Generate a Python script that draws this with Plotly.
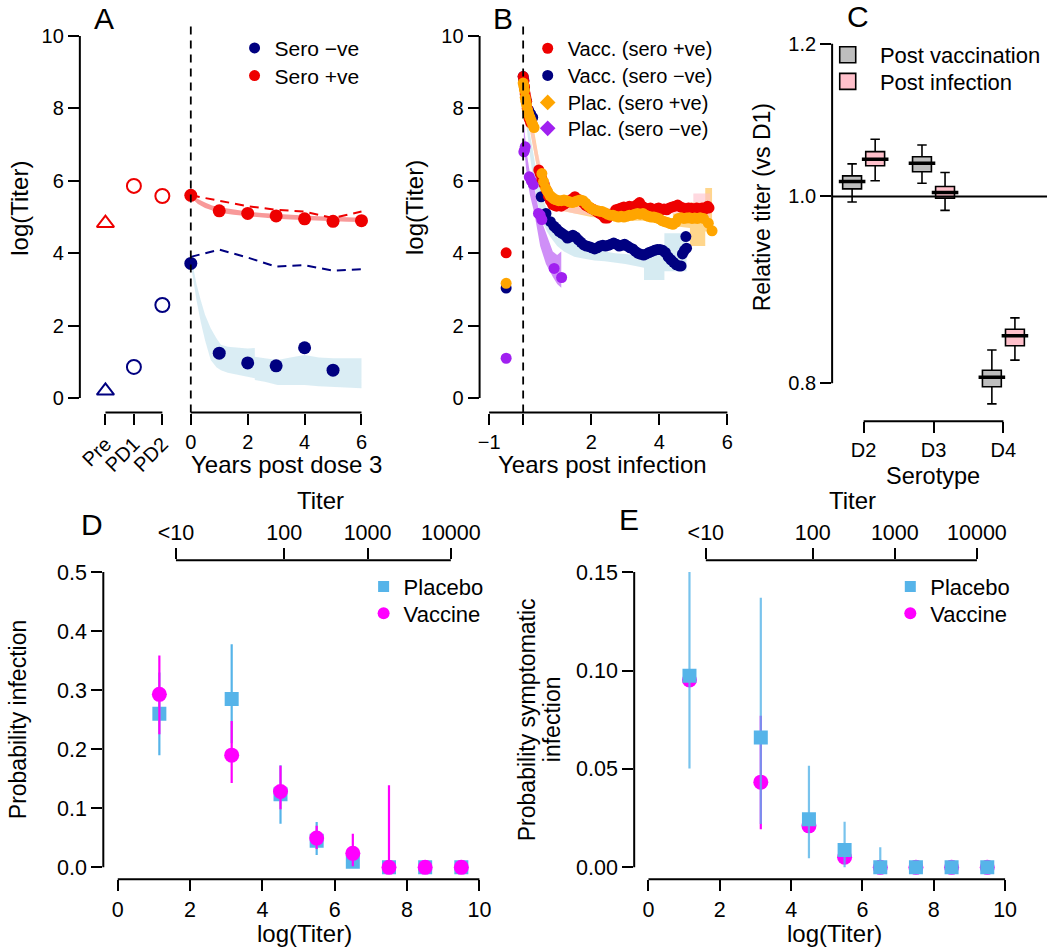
import plotly.graph_objects as go

W, H = 1050, 952
FONT = "Liberation Sans, Arial, Helvetica, sans-serif"


def X(p):
    return p / W


def Y(p):
    return 1 - p / H


# ---------------- Panel A data ----------------
A_pre_x = [-3, -2, -1]
A_pre_labels = ["Pre", "PD1", "PD2"]
A_neg_pre = [0.20, 0.86, 2.57]
A_pos_pre = [4.83, 5.86, 5.58]
A_years_pos = [0, 1, 2, 3, 4, 5, 6]
A_pos_obs = [5.60, 5.17, 5.10, 5.03, 4.95, 4.88, 4.90]
A_years_neg = [0, 1, 2, 3, 4, 5]
A_neg_obs = [3.72, 1.24, 0.97, 0.89, 1.39, 0.77]
A_dash_x = [0, 1, 2, 3, 4, 5, 6]
A_pos_dash = [5.60, 5.45, 5.30, 5.20, 5.15, 4.97, 5.15]
A_neg_dash = [3.90, 4.10, 3.88, 3.63, 3.67, 3.52, 3.56]
A_posband_x = [0, 0.25, 0.5, 0.75, 1, 1.5, 2, 2.5, 3, 3.5, 4, 4.5, 5, 5.5, 6]
A_posband_hi = [5.66, 5.50, 5.40, 5.32, 5.27, 5.20, 5.15, 5.11, 5.08, 5.06, 5.04, 5.02, 5.00, 4.99, 4.98]
A_posband_lo = [5.54, 5.36, 5.25, 5.18, 5.12, 5.06, 5.02, 4.98, 4.95, 4.93, 4.91, 4.89, 4.88, 4.87, 4.86]
A_negband_x = [0, 0.1, 0.2, 0.35, 0.5, 0.7, 0.9, 1.06, 1.3, 1.6, 2.0, 2.25, 2.25, 2.6, 3.05, 3.5, 4.0, 4.5, 5.0, 6.0]
A_negband_hi = [3.95, 3.50, 3.15, 2.70, 2.30, 1.93, 1.65, 1.47, 1.42, 1.40, 1.37, 1.38, 1.14, 1.10, 1.05, 1.12, 1.19, 1.12, 1.10, 1.10]
A_negband_lo = [3.70, 3.20, 2.70, 2.10, 1.60, 1.05, 0.85, 0.77, 0.70, 0.65, 0.59, 0.55, 0.50, 0.45, 0.36, 0.36, 0.36, 0.33, 0.31, 0.27]

# ---------------- Panel B data ----------------
B_pre_x = [-0.5]
B_pre_vpos = [4.01]
B_pre_vneg = [3.04]
B_pre_ppos = [3.17]
B_pre_pneg = [1.10]

B_vpos_x = [0.0, 0.02, 0.04, 0.06, 0.08, 0.1, 0.12, 0.15, 0.18, 0.22, 0.46, 0.5, 0.55, 0.62, 0.68, 0.74, 0.8,
            0.86, 0.92, 0.98, 1.05, 1.12, 1.2, 1.28, 1.36, 1.44, 1.52, 1.6, 1.68, 1.76, 1.84, 1.92, 2.0, 2.08,
            2.16, 2.24, 2.32, 2.4, 2.48, 2.56, 2.64, 2.72, 2.8, 2.88, 2.96, 3.04, 3.12, 3.2, 3.28, 3.36, 3.42,
            3.5, 3.58, 3.66, 3.74, 3.82, 3.9, 3.98, 4.06, 4.14, 4.22, 4.3, 4.38, 4.46, 4.54, 4.62, 4.7, 4.78,
            4.86, 4.94, 5.02, 5.1, 5.18, 5.26, 5.34, 5.42, 5.46]
B_vpos_y = [8.88, 8.75, 8.60, 8.40, 8.30, 8.20, 8.00, 7.85, 7.70, 7.60, 6.30, 6.20, 6.05, 5.90, 5.75, 5.58, 5.45,
            5.35, 5.32, 5.30, 5.35, 5.30, 5.35, 5.40, 5.45, 5.50, 5.56, 5.50, 5.45, 5.40, 5.32, 5.28, 5.24, 5.20,
            5.15, 5.10, 5.05, 4.97, 4.97, 5.05, 5.10, 5.20, 5.22, 5.25, 5.28, 5.25, 5.30, 5.28, 5.30, 5.35, 5.40,
            5.30, 5.25, 5.22, 5.25, 5.20, 5.22, 5.25, 5.20, 5.22, 5.20, 5.25, 5.28, 5.30, 5.33, 5.28, 5.25, 5.22,
            5.25, 5.24, 5.22, 5.25, 5.22, 5.25, 5.22, 5.30, 5.25]

B_ppos_x = [0.0, 0.02, 0.04, 0.06, 0.08, 0.1, 0.13, 0.16, 0.2, 0.24, 0.28, 0.32, 0.55, 0.6, 0.66, 0.72, 0.78,
            0.84, 0.9, 0.96, 1.04, 1.12, 1.2, 1.28, 1.36, 1.44, 1.52, 1.6, 1.68, 1.76, 1.84, 1.92, 2.0, 2.08,
            2.16, 2.24, 2.32, 2.4, 2.48, 2.56, 2.64, 2.72, 2.8, 2.88, 2.96, 3.04, 3.12, 3.2, 3.28, 3.36, 3.44,
            3.52, 3.6, 3.68, 3.76, 3.84, 3.92, 4.0, 4.08, 4.16, 4.24, 4.32, 4.4, 4.48, 4.56, 4.64, 4.72, 4.8,
            4.88, 4.96, 5.04, 5.12, 5.2, 5.3, 5.44, 5.55]
B_ppos_y = [8.70, 8.62, 8.50, 8.30, 8.20, 8.10, 7.95, 7.85, 7.75, 7.65, 7.55, 7.47, 6.20, 5.98, 5.80, 5.70, 5.60,
            5.55, 5.50, 5.48, 5.45, 5.45, 5.47, 5.45, 5.42, 5.40, 5.42, 5.45, 5.47, 5.45, 5.38, 5.30, 5.24, 5.20,
            5.18, 5.16, 5.15, 5.12, 5.08, 5.05, 5.05, 5.02, 5.00, 5.02, 5.00, 5.02, 5.05, 5.05, 5.08, 5.10, 5.08,
            5.10, 5.05, 5.02, 5.00, 5.00, 4.98, 4.95, 4.90, 4.87, 4.85, 4.82, 4.80, 4.85, 4.96, 4.98, 4.96, 4.97,
            4.98, 4.96, 4.97, 4.96, 4.98, 4.96, 4.83, 4.62]

B_vneg_x = [0.0, 0.02, 0.04, 0.1, 0.16, 0.22, 0.28, 0.53, 0.67, 0.8, 0.9, 0.98, 1.06, 1.14, 1.22, 1.3, 1.38,
            1.46, 1.54, 1.62, 1.7, 1.78, 1.86, 1.94, 2.02, 2.1, 2.18, 2.26, 2.34, 2.42, 2.5, 2.58, 2.66, 2.74,
            2.82, 2.9, 2.98, 3.06, 3.14, 3.22, 3.3, 3.38, 3.46, 3.54, 3.62, 3.7, 3.78, 3.86, 3.94, 4.02, 4.1,
            4.18, 4.26, 4.34, 4.42, 4.5, 4.58, 4.64, 4.68, 4.74, 4.8, 4.78]
B_vneg_y = [8.88, 8.78, 8.56, 8.20, 7.95, 7.85, 7.75, 5.56, 5.10, 4.87, 4.75, 4.68, 4.60, 4.55, 4.50, 4.42, 4.45,
            4.50, 4.45, 4.37, 4.30, 4.23, 4.20, 4.18, 4.15, 4.12, 4.15, 4.20, 4.22, 4.20, 4.22, 4.25, 4.28, 4.25,
            4.20, 4.22, 4.25, 4.20, 4.15, 4.12, 4.05, 4.00, 3.97, 3.95, 3.98, 4.02, 4.05, 4.08, 4.10, 4.10, 4.08,
            4.02, 3.90, 3.82, 3.75, 3.68, 3.65, 3.65, 3.98, 4.08, 4.14, 4.46]

B_pneg_x = [0.02, 0.04, 0.06, 0.18, 0.24, 0.3, 0.45, 0.5, 0.55, 0.91, 1.13]
B_pneg_y = [6.80, 6.85, 6.94, 6.11, 6.00, 5.90, 5.10, 5.05, 4.93, 3.58, 3.33]

B_vnegband_x = [0.02, 0.1, 0.2, 0.3, 0.4, 0.5, 0.6, 0.7, 0.8, 1.0, 1.2, 1.5, 1.8, 2.1, 2.4, 2.7, 3.0, 3.3, 3.55,
                3.55, 4.15, 4.15, 4.8]
B_vnegband_hi = [8.90, 8.00, 7.30, 6.70, 6.20, 5.80, 5.45, 5.20, 5.00, 4.70, 4.50, 4.30, 4.20, 4.10, 4.05, 4.00,
                 3.98, 3.95, 3.95, 4.00, 4.00, 4.55, 4.55]
B_vnegband_lo = [8.50, 7.50, 6.70, 6.00, 5.50, 5.10, 4.80, 4.60, 4.45, 4.20, 4.05, 3.90, 3.85, 3.80, 3.78, 3.75,
                 3.70, 3.65, 3.60, 3.26, 3.26, 3.50, 3.50]
B_pposband_x = [0.0, 0.1, 0.2, 0.3, 0.4, 0.5, 0.6, 0.8, 1.0, 1.5, 2.0, 2.5, 3.0, 3.5, 4.0, 4.4, 4.4, 4.9, 4.9,
                5.35, 5.35, 5.55]
B_pposband_hi = [8.80, 8.40, 8.00, 7.50, 6.90, 6.40, 6.00, 5.60, 5.45, 5.40, 5.25, 5.15, 5.10, 5.10, 5.00, 4.95,
                 5.10, 5.10, 5.40, 5.40, 5.80, 5.80]
B_pposband_lo = [8.40, 7.90, 7.40, 6.80, 6.30, 5.90, 5.60, 5.30, 5.20, 5.10, 5.00, 4.95, 4.90, 4.90, 4.85, 4.75,
                 4.75, 4.70, 4.20, 4.20, 4.60, 4.60]
B_vposband_x = [0.0, 0.2, 0.4, 0.6, 0.8, 1.0, 1.5, 2.0, 2.5, 3.0, 3.5, 4.0, 4.5, 5.0, 5.0, 5.5]
B_vposband_hi = [8.90, 7.90, 6.90, 6.10, 5.60, 5.45, 5.40, 5.30, 5.25, 5.30, 5.35, 5.35, 5.40, 5.40, 5.65, 5.65]
B_vposband_lo = [8.60, 7.40, 6.40, 5.70, 5.35, 5.20, 5.10, 5.05, 5.00, 5.05, 5.10, 5.10, 5.10, 5.05, 5.00, 5.00]
B_pnegband_x = [0.02, 0.1, 0.2, 0.33, 0.5, 0.67, 0.87, 1.0, 1.12]
B_pnegband_hi = [7.60, 6.80, 6.20, 5.80, 5.00, 4.55, 4.05, 3.95, 4.05]
B_pnegband_lo = [7.00, 6.20, 5.60, 5.10, 4.20, 3.70, 3.35, 3.15, 3.05]

# ---------------- Panel C data ----------------
C_serotypes = ["D2", "D3", "D4"]
C_pos = [1, 2, 3]
C_vac_q1 = [1.0092, 1.0300, 0.7967]
C_vac_med = [1.0180, 1.0405, 0.8058]
C_vac_q3 = [1.0249, 1.0487, 0.8126]
C_vac_lo = [0.9934, 1.0160, 0.7806]
C_vac_hi = [1.0397, 1.0634, 0.8324]
C_inf_q1 = [1.0375, 0.9980, 0.8367]
C_inf_med = [1.0455, 1.0048, 0.8467]
C_inf_q3 = [1.0550, 1.0120, 0.8534]
C_inf_lo = [1.0190, 0.9835, 0.8225]
C_inf_hi = [1.0707, 1.0290, 0.8650]

# ---------------- Panel D / E data ----------------
DE_x = [1.15, 3.15, 4.5, 5.5, 6.5, 7.5, 8.5, 9.5]
D_plac = [0.260, 0.285, 0.124, 0.045, 0.0095, 0.0, 0.0, 0.0]
D_plac_lo = [0.190, 0.210, 0.074, 0.021, 0.0, 0.0, 0.0, 0.0]
D_plac_hi = [0.330, 0.378, 0.173, 0.077, 0.035, 0.0, 0.0, 0.0]
D_vacc = [0.293, 0.190, 0.1286, 0.0496, 0.0237, 0.0, 0.0, 0.0]
D_vacc_lo = [0.2255, 0.1427, 0.0986, 0.031, 0.002, 0.0, 0.0, 0.0]
D_vacc_hi = [0.359, 0.248, 0.172, 0.0705, 0.0569, 0.139, 0.0, 0.0]
E_plac = [0.0973, 0.066, 0.0245, 0.0088, 0.0, 0.0, 0.0, 0.0]
E_plac_lo = [0.0502, 0.022, 0.0046, 0.0, 0.0, 0.0, 0.0, 0.0]
E_plac_hi = [0.150, 0.137, 0.0516, 0.0232, 0.0102, 0.0, 0.0, 0.0]
E_vacc = [0.0952, 0.0433, 0.0211, 0.0052, 0.0, 0.0, 0.0, 0.0]
E_vacc_lo = [0.0952, 0.0194, 0.0211, 0.0052, 0.0, 0.0, 0.0, 0.0]
E_vacc_hi = [0.0952, 0.077, 0.0211, 0.0052, 0.0, 0.0, 0.0, 0.0]
titer_labels = ["<10", "100", "1000", "10000"]
titer_pos = [1.609, 4.605, 6.908, 9.210]

# ---------------- colours ----------------
RED = "#EE0000"
NAVY = "#000080"
ORANGE = "#FFA500"
PURPLE = "#A020F0"
SKY = "#56B4E9"
MAGENTA = "#FF00FF"

fig = go.Figure()


def band(x, lo, hi, color, xa, ya):
    fig.add_trace(go.Scatter(x=x, y=lo, mode="lines", line=dict(width=0, color=color),
                             xaxis=xa, yaxis=ya, showlegend=False, hoverinfo="skip"))
    fig.add_trace(go.Scatter(x=x, y=hi, mode="lines", line=dict(width=0, color=color), fill="tonexty",
                             fillcolor=color, xaxis=xa, yaxis=ya, showlegend=False, hoverinfo="skip"))


def pts(x, y, color, xa, ya, size=11, symbol="circle"):
    fig.add_trace(go.Scatter(x=x, y=y, mode="markers",
                             marker=dict(color=color, size=size, symbol=symbol, line=dict(width=0)),
                             xaxis=xa, yaxis=ya, showlegend=False, hoverinfo="skip"))


legends = {}
_leg_count = [0]


def legend_item(name, color, symbol, size, sx, sy, fsize, line=None):
    """One legend entry, its symbol centred at pixel (sx, sy)."""
    _leg_count[0] += 1
    key = "legend" if _leg_count[0] == 1 else "legend%d" % _leg_count[0]
    legends[key] = dict(x=X(sx - 20), y=Y(sy), xanchor="left", yanchor="middle",
                        font=dict(family=FONT, size=fsize, color="black"), bgcolor="rgba(0,0,0,0)",
                        borderwidth=0, itemclick=False, itemdoubleclick=False, traceorder="normal")
    fig.add_trace(go.Scatter(x=[None], y=[None], mode="markers", name=name,
                             marker=dict(color=color, size=size, symbol=symbol,
                                         line=line or dict(width=0)),
                             legend=key, showlegend=True, xaxis="x", yaxis="y"))


# ---- Panel A ----
band(A_negband_x, A_negband_lo, A_negband_hi, "rgba(173,216,230,0.45)", "x", "y")
band(A_posband_x, A_posband_lo, A_posband_hi, "rgba(238,0,0,0.4)", "x", "y")
fig.add_trace(go.Scatter(x=A_dash_x, y=A_pos_dash, mode="lines", line=dict(color=RED, width=2, dash="9px,6px"),
                         xaxis="x", yaxis="y", showlegend=False))
fig.add_trace(go.Scatter(x=A_dash_x, y=A_neg_dash, mode="lines", line=dict(color=NAVY, width=2, dash="9px,6px"),
                         xaxis="x", yaxis="y", showlegend=False))
fig.add_trace(go.Scatter(x=A_pre_x[1:], y=A_pos_pre[1:], mode="markers",
                         marker=dict(symbol="circle-open", size=14, color=RED, line=dict(width=2)),
                         xaxis="x2", yaxis="y", showlegend=False))
fig.add_trace(go.Scatter(x=A_pre_x[1:], y=A_neg_pre[1:], mode="markers",
                         marker=dict(symbol="circle-open", size=14, color=NAVY, line=dict(width=2)),
                         xaxis="x2", yaxis="y", showlegend=False))
fig.add_trace(go.Scatter(x=A_pre_x[:1], y=A_pos_pre[:1], mode="markers",
                         marker=dict(symbol="triangle-up-open", size=15, color=RED, line=dict(width=2)),
                         xaxis="x2", yaxis="y", showlegend=False))
fig.add_trace(go.Scatter(x=A_pre_x[:1], y=A_neg_pre[:1], mode="markers",
                         marker=dict(symbol="triangle-up-open", size=15, color=NAVY, line=dict(width=2)),
                         xaxis="x2", yaxis="y", showlegend=False))
pts(A_years_pos, A_pos_obs, RED, "x", "y", size=13)
pts(A_years_neg, A_neg_obs, NAVY, "x", "y", size=13)
legend_item("Sero \u2212ve", NAVY, "circle", 11, 253, 48.3, 21)
legend_item("Sero +ve", RED, "circle", 11, 253, 76, 21)

# ---- Panel B ----
band(B_vnegband_x, B_vnegband_lo, B_vnegband_hi, "rgba(173,216,230,0.5)", "x3", "y2")
band(B_pnegband_x, B_pnegband_lo, B_pnegband_hi, "rgba(160,32,240,0.5)", "x3", "y2")
band(B_pposband_x, B_pposband_lo, B_pposband_hi, "rgba(255,165,0,0.45)", "x3", "y2")
band(B_vposband_x, B_vposband_lo, B_vposband_hi, "rgba(255,192,203,0.6)", "x3", "y2")
pts(B_vneg_x, B_vneg_y, NAVY, "x3", "y2")
pts(B_pneg_x, B_pneg_y, PURPLE, "x3", "y2")
pts(B_vpos_x, B_vpos_y, RED, "x3", "y2")
pts(B_ppos_x, B_ppos_y, ORANGE, "x3", "y2")
pts(B_pre_x, B_pre_vpos, RED, "x3", "y2")
pts(B_pre_x, B_pre_vneg, NAVY, "x3", "y2")
pts(B_pre_x, B_pre_ppos, ORANGE, "x3", "y2")
pts(B_pre_x, B_pre_pneg, PURPLE, "x3", "y2")
legend_item("Vacc. (sero +ve)", RED, "circle", 11, 546.7, 48.3, 20)
legend_item("Vacc. (sero \u2212ve)", NAVY, "circle", 11, 546.7, 75.5, 20)
legend_item("Plac. (sero +ve)", ORANGE, "diamond", 12, 546.7, 102.5, 20)
legend_item("Plac. (sero \u2212ve)", PURPLE, "diamond", 12, 546.7, 128.5, 20)

# ---- Panel C ----
off = 0.165
fig.add_trace(go.Box(x=[p - off for p in C_pos], q1=C_vac_q1, median=C_vac_med, q3=C_vac_q3,
                     lowerfence=C_vac_lo, upperfence=C_vac_hi, width=0.27, whiskerwidth=0.5,
                     fillcolor="#BEBEBE", line=dict(color="black", width=1.6), boxpoints=False,
                     xaxis="x4", yaxis="y3", showlegend=False, hoverinfo="skip"))
fig.add_trace(go.Box(x=[p + off for p in C_pos], q1=C_inf_q1, median=C_inf_med, q3=C_inf_q3,
                     lowerfence=C_inf_lo, upperfence=C_inf_hi, width=0.27, whiskerwidth=0.5,
                     fillcolor="#FFC0CB", line=dict(color="black", width=1.6), boxpoints=False,
                     xaxis="x4", yaxis="y3", showlegend=False, hoverinfo="skip"))
fig.add_trace(go.Scatter(x=[p - off for p in C_pos] + [p + off for p in C_pos], y=C_vac_med + C_inf_med,
                         mode="markers", marker=dict(symbol="line-ew-open", size=19, color="black",
                                                     line=dict(color="black", width=3.5)),
                         xaxis="x4", yaxis="y3", showlegend=False, hoverinfo="skip"))
legend_item("\u00a0\u00a0Post vaccination", "#BEBEBE", "square", 16, 847.3, 55, 22,
            line=dict(color="black", width=1.6))
legend_item("\u00a0\u00a0Post infection", "#FFC0CB", "square", 16, 847.3, 81.7, 22,
            line=dict(color="black", width=1.6))


# ---- Panel D ----
def errs(v, lo, hi):
    return [h - m for h, m in zip(hi, v)], [m - l for m, l in zip(v, lo)]


pu, pl = errs(D_plac, D_plac_lo, D_plac_hi)
vu, vl = errs(D_vacc, D_vacc_lo, D_vacc_hi)
fig.add_trace(go.Scatter(x=titer_pos, y=[None] * 4, mode="markers", xaxis="x6", yaxis="y4",
                         showlegend=False, hoverinfo="skip"))
fig.add_trace(go.Scatter(x=DE_x, y=D_plac, mode="markers",
                         marker=dict(symbol="square", size=14, color=SKY, line=dict(width=0)),
                         error_y=dict(type="data", array=pu, arrayminus=pl, color=SKY, thickness=2.2, width=0),
                         xaxis="x5", yaxis="y4", showlegend=False))
fig.add_trace(go.Scatter(x=DE_x, y=D_vacc, mode="markers",
                         marker=dict(symbol="circle", size=15, color=MAGENTA, line=dict(width=0)),
                         error_y=dict(type="data", array=vu, arrayminus=vl, color=MAGENTA, thickness=2.2, width=0),
                         xaxis="x5", yaxis="y4", showlegend=False))
legend_item("Placebo", SKY, "square", 11, 382.3, 587.3, 22)
legend_item("Vaccine", MAGENTA, "circle", 12, 382.3, 614, 22)

# ---- Panel E ----
pu, pl = errs(E_plac, E_plac_lo, E_plac_hi)
vu, vl = errs(E_vacc, E_vacc_lo, E_vacc_hi)
fig.add_trace(go.Scatter(x=titer_pos, y=[None] * 4, mode="markers", xaxis="x8", yaxis="y5",
                         showlegend=False, hoverinfo="skip"))
fig.add_trace(go.Scatter(x=DE_x, y=E_vacc, mode="markers",
                         marker=dict(symbol="circle", size=15, color=MAGENTA, line=dict(width=0)),
                         error_y=dict(type="data", array=vu, arrayminus=vl, color=MAGENTA, thickness=2.2, width=0),
                         xaxis="x7", yaxis="y5", showlegend=False))
fig.add_trace(go.Scatter(x=DE_x, y=E_plac, mode="markers",
                         marker=dict(symbol="square", size=14, color=SKY, line=dict(width=0)),
                         error_y=dict(type="data", array=pu, arrayminus=pl, color="rgba(86,180,233,0.8)",
                                      thickness=2.2, width=0),
                         xaxis="x7", yaxis="y5", showlegend=False))
legend_item("Placebo", SKY, "square", 11, 910, 587.3, 22)
legend_item("Vaccine", MAGENTA, "circle", 12, 910, 614, 22)

# ---------------- axes ----------------
tf20 = dict(family=FONT, size=20, color="black")
tf21 = dict(family=FONT, size=21.5, color="black")
base = dict(showgrid=False, zeroline=False, showline=False, ticks="outside", ticklen=11, tickwidth=2,
            tickcolor="black", tickfont=tf20, fixedrange=True)
baseD = dict(base, tickfont=tf21)

yA_dom = [Y(413), Y(21.5)]
lay = dict(
    xaxis=dict(base, domain=[X(78), X(371)], range=[-3.9, 6.38], anchor="y",
               tickvals=[0, 2, 4, 6], ticktext=["0", "2", "4", "6"]),
    xaxis2=dict(base, overlaying="x", range=[-3.9, 6.38], anchor="y", side="bottom",
                tickvals=A_pre_x, ticktext=A_pre_labels, tickangle=-45),
    yaxis=dict(base, domain=yA_dom, range=[-0.4, 10.4], anchor="x", tickvals=[0, 2, 4, 6, 8, 10]),
    xaxis3=dict(base, domain=[X(478.5), X(736.3)], range=[-1.28, 6.28], anchor="y2",
                tickvals=[-1, 0, 2, 4, 6], ticktext=["\u22121", "", "2", "4", "6"]),
    yaxis2=dict(base, domain=yA_dom, range=[-0.4, 10.4], anchor="x3", tickvals=[0, 2, 4, 6, 8, 10]),
    xaxis4=dict(base, domain=[X(831.7), X(1047)], range=[0.549, 3.624], anchor="y3",
                tickvals=C_pos, ticktext=C_serotypes),
    yaxis3=dict(base, domain=[Y(421.7), Y(29.4)], type="log", range=[-0.1166, 0.0867], anchor="x4",
                tickvals=[0.8, 1.0, 1.2], ticktext=["0.8", "1.0", "1.2"]),
    xaxis5=dict(baseD, domain=[X(101.5), X(492.8)], range=[-0.4, 10.4], anchor="y4",
                tickvals=[0, 2, 4, 6, 8, 10]),
    xaxis6=dict(baseD, overlaying="x5", range=[-0.4, 10.4], anchor="y4", side="top",
                tickvals=titer_pos, ticktext=titer_labels),
    yaxis4=dict(baseD, domain=[Y(880.1), Y(560.9)], range=[-0.02, 0.52], anchor="x5",
                tickvals=[0, 0.1, 0.2, 0.3, 0.4, 0.5], tickformat=".1f"),
    xaxis7=dict(baseD, domain=[X(633.4), X(1019.3)], range=[-0.4, 10.4], anchor="y5",
                tickvals=[0, 2, 4, 6, 8, 10]),
    xaxis8=dict(baseD, overlaying="x7", range=[-0.4, 10.4], anchor="y5", side="top",
                tickvals=titer_pos, ticktext=titer_labels),
    yaxis5=dict(baseD, domain=[Y(880.1), Y(560.9)], range=[-0.006, 0.156], anchor="x7",
                tickvals=[0, 0.05, 0.10, 0.15], tickformat=".2f"),
)

# ---------------- axis spines & reference lines ----------------
shapes = []


def seg(xref, yref, x0, x1, y0, y1, dash=None, width=2):
    d = dict(type="line", xref=xref, yref=yref, x0=x0, x1=x1, y0=y0, y1=y1,
             line=dict(color="black", width=width), layer="above")
    if dash:
        d["line"]["dash"] = dash
    shapes.append(d)


seg("x domain", "y", 0, 0, 0, 10)
seg("x", "y domain", -3, -1, 0, 0)
seg("x", "y domain", 0, 6, 0, 0)
seg("x", "y domain", 0, 0, 0, 1, dash="8px,6px", width=1.8)
seg("x3 domain", "y2", 0, 0, 0, 10)
seg("x3", "y2 domain", -1, 6, 0, 0)
seg("x3", "y2 domain", 0, 0, 0, 1, dash="8px,6px", width=1.8)
seg("x4 domain", "y3", 0, 0, 0.8, 1.2)
seg("x4", "y3 domain", 1, 3, 0, 0)
seg("x4 domain", "y3", 0, 1, 1.0, 1.0)
seg("x5 domain", "y4", 0, 0, 0, 0.5)
seg("x5", "y4 domain", 0, 10, 0, 0)
seg("x5", "y4 domain", titer_pos[0], titer_pos[-1], 1, 1)
seg("x7 domain", "y5", 0, 0, 0, 0.15)
seg("x7", "y5 domain", 0, 10, 0, 0)
seg("x7", "y5 domain", titer_pos[0], titer_pos[-1], 1, 1)


# ---------------- annotations ----------------
def ann(text, x, y, size=24, angle=0):
    return dict(text=text, x=X(x), y=Y(y), xref="paper", yref="paper", showarrow=False,
                font=dict(family=FONT, size=size, color="black"), textangle=angle,
                xanchor="center", yanchor="middle")


annotations = [
    ann("A", 102.5, 19, 30), ann("B", 502, 19, 30), ann("C", 858, 17, 30),
    ann("D", 90.5, 525, 30), ann("E", 628, 520, 30),
    ann("log(Titer)", 18, 208, 24, -90), ann("log(Titer)", 414, 208, 24, -90),
    ann("Relative titer (vs D1)", 761, 208, 23, -90),
    ann("Probability infection", 16, 720, 23, -90),
    ann("Probability symptomatic", 526, 720, 23, -90),
    ann("infection", 551, 720, 23, -90),
    ann("Years post dose 3", 285, 465), ann("Years post infection", 602, 465),
    ann("Serotype", 933, 477, 23.5),
    ann("log(Titer)", 303, 934), ann("log(Titer)", 834, 934),
    ann("Titer", 319, 501), ann("Titer", 851.7, 501),
]

fig.update_layout(
    width=W, height=H, margin=dict(l=0, r=0, t=0, b=0), paper_bgcolor="white", plot_bgcolor="white",
    font=dict(family=FONT, size=20, color="black"), boxmode="overlay",
    shapes=shapes, annotations=annotations, **legends, **lay,
)

fig.write_html("out.html", config={"displayModeBar": False},
               post_script="document.body.style.margin='0px';document.body.style.padding='0px';")
